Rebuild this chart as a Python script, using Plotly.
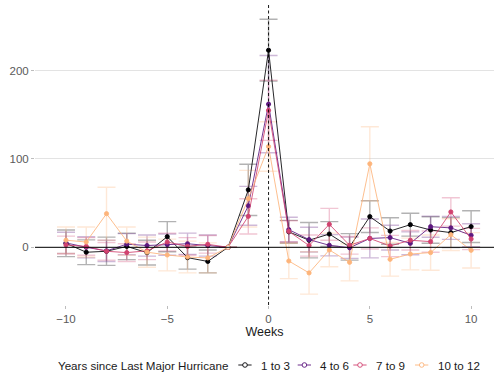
import plotly.graph_objects as go

# Event-study estimates by years since last major hurricane (week -2 is the reference week)
weeks = list(range(-10, 11))
groups = ["1 to 3", "4 to 6", "7 to 9", "10 to 12"]
ref_week = -2

est_1_3 = [4.5, -5.6, -4.5, 1.0, -6.0, 12.0, -11.7, -16.0, 0.0, 65.0, 223.0,
           17.5, 8.0, 15.0, 0.5, 34.7, 18.4, 25.6, 19.6, 16.6, 23.4]
se_1_3 = [15, 14, 16, 15, 14, 17, 13, 13, None, 29, 35,
          13, 20, 14, 15, 18, 15, 13, 15, 17, 18]

est_4_6 = [5.0, 0.0, -4.0, 3.5, 2.0, 3.0, 4.0, 2.0, 0.0, 47.0, 162.0,
           20.0, 8.7, 2.3, -0.5, 10.0, 11.0, 4.5, 23.3, 22.0, 13.6]
se_4_6 = [12, 12, 12, 12, 12, 12, 12, 12, None, 22, 55,
          14, 14, 12, 12, 22, 14, 13, 12, 13, 13]

est_7_9 = [2.6, 1.0, -4.5, -6.0, -4.0, 6.0, 1.0, 3.4, 0.0, 35.0, 155.0,
           18.0, 2.0, 26.0, 2.3, 10.0, 1.5, 8.0, 6.4, 40.0, 9.4]
se_7_9 = [10, 10, 10, 10, 10, 10, 10, 10, None, 20, 34,
          12, 12, 18, 10, 12, 12, 11, 12, 16, 12]

est_10_12 = [8.0, 6.0, 38.0, 7.0, -5.5, -8.7, -11.0, -12.0, 0.0, 55.0, 114.0,
             -15.5, -29.0, -3.0, -17.0, 94.5, -13.6, -7.6, -6.0, 14.3, -3.4]
se_10_12 = [15, 17, 30, 16, 17, 18, 18, 17, None, 32, 28,
            20, 24, 19, 21, 42, 19, 18, 20, 18, 20]

estimates = [est_1_3, est_4_6, est_7_9, est_10_12]
std_errs = [se_1_3, se_4_6, se_7_9, se_10_12]
colors = ["#000004", "#5D177F", "#D1426F", "#FDB47B"]

y_ticks = [0, 100, 200]
x_ticks = [-10, -5, 0, 5, 10]


def rgba(hex_color, alpha):
    h = hex_color.lstrip("#")
    r, g, b = int(h[0:2], 16), int(h[2:4], 16), int(h[4:6], 16)
    return f"rgba({r},{g},{b},{alpha})"


fig = go.Figure()

# error bars underneath everything
for name, est, se, col in zip(groups, estimates, std_errs, colors):
    fig.add_trace(go.Scatter(
        x=weeks, y=est, mode="markers",
        marker=dict(size=1, opacity=0),
        error_y=dict(type="data", array=se, visible=True,
                     color=rgba(col, 0.3), thickness=1.4, width=9),
        showlegend=False, hoverinfo="skip"))

# lines and points
for name, est, col in zip(groups, estimates, colors):
    fills = ["white" if w == ref_week else col for w in weeks]
    fig.add_trace(go.Scatter(
        x=weeks, y=est, mode="lines+markers", name=name,
        line=dict(color=col, width=0.85),
        marker=dict(size=4.2, color=fills, line=dict(color=col, width=0.9)),
        showlegend=False))

# reference lines
fig.add_shape(type="line", xref="paper", yref="y", x0=0, x1=1, y0=0, y1=0,
              line=dict(color="black", width=1))
fig.add_shape(type="line", xref="x", yref="paper", x0=0, x1=0, y0=0, y1=1,
              line=dict(color="black", width=0.9, dash="3px,2.5px"))

# legend drawn along the bottom
L, W, T, H = 35, 459, 5, 300


def px_x(p):
    return (p - L) / W


def px_y(p):
    return (T + H - p) / H


leg_y = 365
fig.add_annotation(xref="paper", yref="paper", x=px_x(56), y=px_y(leg_y),
                   text="Years since Last Major Hurricane", showarrow=False,
                   xanchor="left", yanchor="middle",
                   font=dict(size=11.6, color="#1a1a1a"))
starts = [238.3, 297.7, 353.3, 415.0]
for name, col, s in zip(groups, colors, starts):
    fig.add_shape(type="line", xref="paper", yref="paper",
                  x0=px_x(s), x1=px_x(s + 13.3), y0=px_y(leg_y), y1=px_y(leg_y),
                  line=dict(color=col, width=0.9))
    fig.add_shape(type="circle", xref="paper", yref="paper",
                  xsizemode="pixel", ysizemode="pixel",
                  xanchor=px_x(s + 6.7), yanchor=px_y(leg_y),
                  x0=-2.3, x1=2.3, y0=-2.3, y1=2.3,
                  fillcolor="white", line=dict(color=col, width=0.9))
    fig.add_annotation(xref="paper", yref="paper", x=px_x(s + 20.5), y=px_y(leg_y),
                       text=name, showarrow=False, xanchor="left", yanchor="middle",
                       font=dict(size=11.6, color="#1a1a1a"))

fig.update_layout(
    width=494, height=377,
    margin=dict(l=L, r=494 - L - W, t=T, b=377 - T - H),
    paper_bgcolor="white", plot_bgcolor="white",
    font=dict(family="Liberation Sans, Arial, sans-serif", size=11, color="#555555"),
    showlegend=False,
    xaxis=dict(range=[-11.53, 11.13], tickvals=x_ticks, showgrid=False,
               zeroline=False, showline=False, ticks="outside", ticklen=3,
               tickcolor="#bdbdbd", tickwidth=1,
               tickfont=dict(size=11.5, color="#5a5a5a"),
               title=dict(text="Weeks", standoff=3,
                          font=dict(size=12.5, color="#1a1a1a"))),
    yaxis=dict(range=[-65.3, 274.2], tickvals=y_ticks, showgrid=True,
               gridcolor="#e3e3e3", gridwidth=0.8, zeroline=False,
               showline=False, ticks="outside", ticklen=3,
               tickcolor="#bdbdbd", tickwidth=1,
               tickfont=dict(size=11.5, color="#5a5a5a")),
)

fig.write_html("out.html")
